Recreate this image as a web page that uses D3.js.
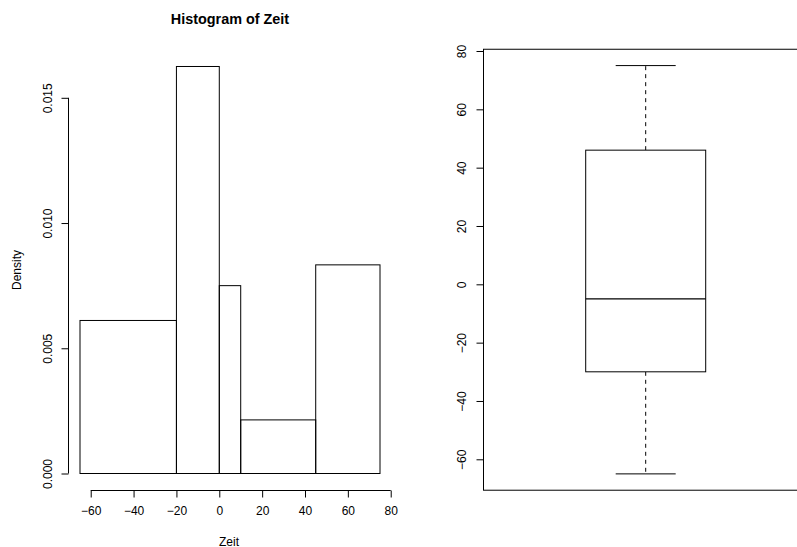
<!DOCTYPE html>
<html><head><meta charset="utf-8">
<script src="https://cdn.jsdelivr.net/npm/d3@7"></script>
<style>
body{margin:0;background:#fff;}
text{font-family:"Liberation Sans",Arial,Helvetica,sans-serif;fill:#000;}
</style></head>
<body>
<svg id="c" width="797" height="547"></svg>
<script>
// Histogram data
const breaks = [-65, -20, 0, 10, 45, 75];
const densities = [0.00611, 0.01625, 0.0075, 0.00214, 0.00833];
const histXTicks = [-60, -40, -20, 0, 20, 40, 60, 80];
const histYTicks = [0.000, 0.005, 0.010, 0.015];
// Boxplot data (min, Q1, median, Q3, max)
const boxStats = [-65, -30, -5, 46, 75];
const boxYTicks = [-60, -40, -20, 0, 20, 40, 60, 80];

const svg = d3.select("#c");
const minus = s => s.replace("-", "\u2212");

// ---------- Histogram ----------
const hx = d3.scaleLinear().domain([-70.6, 80.6]).range([68, 392]);
const hy = d3.scaleLinear().domain([0, 0.015]).range([473.5, 97.8]);

const bins = densities.map((d, i) => ({x0: breaks[i], x1: breaks[i+1], d}));
svg.append("g").selectAll("rect").data(bins).join("rect")
  .attr("x", b => hx(b.x0))
  .attr("y", b => hy(b.d))
  .attr("width", b => hx(b.x1) - hx(b.x0))
  .attr("height", b => hy(0) - hy(b.d))
  .attr("fill", "none").attr("stroke", "#000").attr("stroke-width", 1);

// x axis
const gx = svg.append("g").attr("transform", "translate(0,490.5)");
gx.call(d3.axisBottom(hx).tickValues(histXTicks).tickSize(7).tickPadding(9)
  .tickFormat(d => minus(String(d))));
gx.select(".domain").attr("d", `M${hx(-60)},0H${hx(80)}`);
gx.selectAll("text").attr("font-size", 12).attr("font-family", "Liberation Sans, Arial, sans-serif");

// y axis
const gy = svg.append("g").attr("transform", "translate(68.5,0)");
gy.call(d3.axisLeft(hy).tickValues(histYTicks).tickSize(7)
  .tickFormat(d3.format(".3f")));
gy.select(".domain").attr("d", `M0,${hy(0)}V${hy(0.015)}`);
gy.selectAll(".tick text")
  .attr("x", null).attr("dy", null)
  .attr("text-anchor", "middle")
  .attr("font-size", 12).attr("font-family", "Liberation Sans, Arial, sans-serif")
  .attr("transform", "translate(-16.5,0) rotate(-90)");

svg.append("text").attr("x", 230).attr("y", 23.5).attr("text-anchor", "middle")
  .attr("font-size", 14.4).attr("font-weight", "bold").text("Histogram of Zeit");
svg.append("text").attr("x", 229).attr("y", 545.5).attr("text-anchor", "middle")
  .attr("font-size", 12).text("Zeit");
svg.append("text").attr("transform", "translate(21,270) rotate(-90)")
  .attr("text-anchor", "middle").attr("font-size", 12).text("Density");

// ---------- Boxplot ----------
const by = d3.scaleLinear().domain([-60, 80]).range([459.3, 51]);
const bx = d3.scaleLinear().domain([0, 2]).range([495.7, 795.7]);
const [mn, q1, med, q3, mx] = boxStats;
const g = svg.append("g");
// frame
g.append("rect").attr("x", 483.5).attr("y", by(80.6)).attr("width", 330)
  .attr("height", by(-70.6) - by(80.6)).attr("fill", "none").attr("stroke", "#000");
// whiskers
g.append("line").attr("x1", bx(1)).attr("x2", bx(1)).attr("y1", by(q3)).attr("y2", by(mx))
  .attr("stroke", "#000").attr("stroke-dasharray", "4,4");
g.append("line").attr("x1", bx(1)).attr("x2", bx(1)).attr("y1", by(q1)).attr("y2", by(mn))
  .attr("stroke", "#000").attr("stroke-dasharray", "4,4");
// staples
[mn, mx].forEach(v => g.append("line").attr("x1", bx(0.8)).attr("x2", bx(1.2))
  .attr("y1", by(v)).attr("y2", by(v)).attr("stroke", "#000"));
// box
g.append("rect").attr("x", bx(0.6)).attr("y", by(q3)).attr("width", bx(1.4) - bx(0.6))
  .attr("height", by(q1) - by(q3)).attr("fill", "#fff").attr("stroke", "#000");
g.append("line").attr("x1", bx(0.6)).attr("x2", bx(1.4)).attr("y1", by(med)).attr("y2", by(med))
  .attr("stroke", "#000").attr("stroke-width", 1.2);

const gby = svg.append("g").attr("transform", "translate(483.5,0)");
gby.call(d3.axisLeft(by).tickValues(boxYTicks).tickSize(7).tickFormat(d => minus(String(d))));
gby.select(".domain").attr("d", `M0,${by(-60)}V${by(80)}`);
gby.selectAll(".tick text")
  .attr("x", null).attr("dy", null)
  .attr("text-anchor", "middle")
  .attr("font-size", 12).attr("font-family", "Liberation Sans, Arial, sans-serif")
  .attr("transform", "translate(-17.8,0) rotate(-90)");
</script>
</body></html>
